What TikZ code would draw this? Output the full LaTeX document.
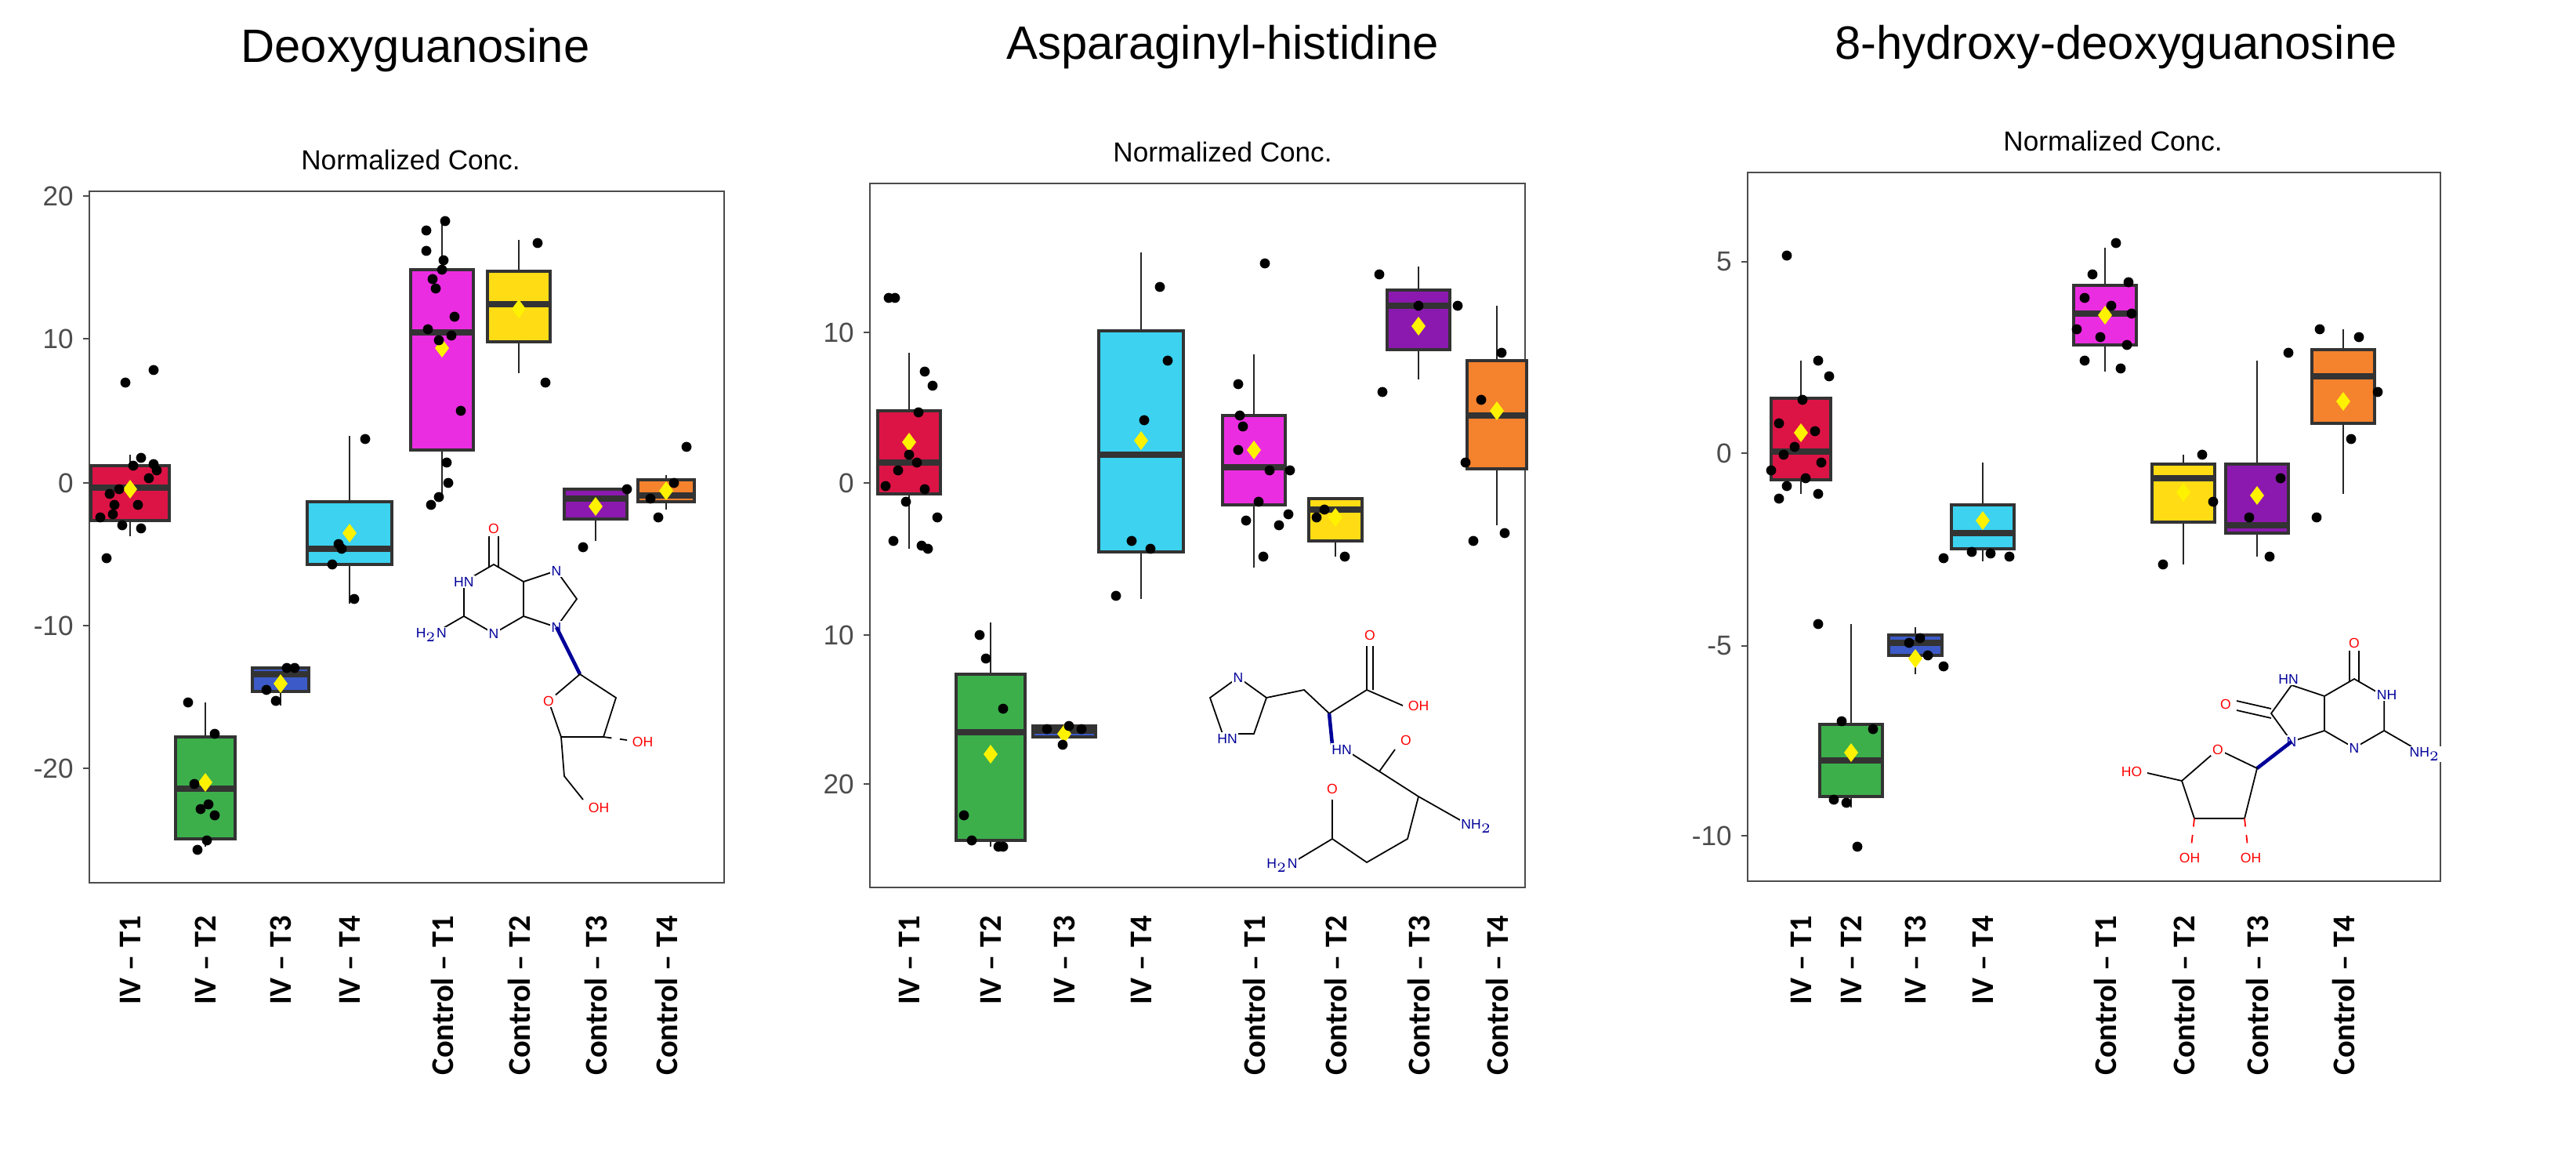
\documentclass[tikz,border=0pt]{standalone}
\usepackage{fontspec}
\setmainfont{Liberation Sans}
\newfontfamily\lab{Carlito}
\begin{document}
\begin{tikzpicture}[x=0.02cm,y=-0.02cm,
  frame/.style={draw=black!70,line width=0.7pt},
  boxs/.style={draw=black!80,line width=0.9pt},
  tick/.style={font=\fontsize{10}{12}\selectfont,text=black!70,anchor=east},
  xl/.style={font=\lab\bfseries\fontsize{11.5}{13}\selectfont,rotate=90,anchor=east},
  ttl/.style={font=\fontsize{17}{20}\selectfont},
  sub/.style={font=\fontsize{10}{12}\selectfont},
  bond/.style={line width=0.5pt},
  nl/.style={font=\fontsize{5}{6}\selectfont,text=blue!60!black,inner sep=0.5pt,fill=white},
  ol/.style={font=\fontsize{5}{6}\selectfont,text=red,inner sep=0.5pt,fill=white}]
\definecolor{cred}{RGB}{220,20,70}
\definecolor{cgreen}{RGB}{60,175,75}
\definecolor{cblue}{RGB}{60,90,200}
\definecolor{ccyan}{RGB}{60,210,240}
\definecolor{cmag}{RGB}{235,45,225}
\definecolor{cyel}{RGB}{255,220,20}
\definecolor{cpur}{RGB}{140,25,175}
\definecolor{cora}{RGB}{245,130,45}
\useasboundingbox (0,0) rectangle (1643.5,736);
\newcommand\bx[9]{%
  \draw[line width=0.8pt,black!85] (#1,#3) -- (#1,#4) (#1,#6) -- (#1,#7);
  \filldraw[boxs,fill=#9] (#1-#2,#4) rectangle (#1+#2,#6);
  \draw[line width=2.2pt,black!80] (#1-#2,#5) -- (#1+#2,#5);
  \fill[yellow] (#1,#8-6) -- (#1+4.5,#8) -- (#1,#8+6) -- (#1-4.5,#8) -- cycle;}
\newcommand\dts[1]{\foreach \px/\py in {#1} \fill (\px,\py) circle (3.2);}

%%%%% Panel 1
\node[ttl] (t1) at (265,32) {Deoxyguanosine};
\node[sub] (s1) at (262,102) {Normalized Conc.};
\draw[frame] (57,122) rectangle (462,563);
\foreach \v/\yy in {20/125,10/216,0/308,-10/399,-20/490}{
  \draw[black!70,line width=0.8pt] (53,\yy) -- (57,\yy);
  \node[tick] at (53,\yy) {\v};}
\bx{83}{25}{290}{297}{311}{332}{342}{312}{cred}
\bx{131}{19}{448}{470}{503}{535}{540}{499}{cgreen}
\bx{179}{18}{426}{426}{430}{441}{450}{436}{cblue}
\bx{223}{27}{278}{320}{350}{360}{385}{340}{ccyan}
\bx{282}{20}{140}{172}{212}{287}{318}{222}{cmag}
\bx{331}{20}{153}{173}{194}{218}{238}{197}{cyel}
\bx{380}{20}{312}{312}{318}{331}{345}{323}{cpur}
\bx{425}{18}{303}{306}{316}{320}{325}{313}{cora}
\dts{80/244,98/236,78/335,72/328,90/292,70/315,95/305,88/322,100/300,64/330,76/312,85/297,68/356,98/296,90/337,73/322}
\dts{120/448,137/468,124/500,133/513,128/516,132/536,126/542,137/520}
\dts{170/440,183/426,188/426,176/447}
\dts{233/280,218/350,212/360,216/347,226/382}
\dts{272/147,272/160,284/141,283/166,282/172,276/178,278/184,290/202,273/210,288/214,280/217,294/262,285/295,286/308,275/322,280/317}
\dts{343/155,348/244}
\dts{400/312,372/349}
\dts{430/308,415/318,438/285,420/330}
\foreach \c/\t in {83/IV – T1,131/IV – T2,179/IV – T3,223/IV – T4,282/Control – T1,331/Control – T2,380/Control – T3,425/Control – T4}
  \node[xl] at (\c,578) {\t};
\begin{scope}[shift={(315,382)}]
  \draw[bond] (270:22)--(330:22)--(30:22)--(90:22)--(150:22)--(210:22)--cycle;
  \draw[bond] (-3,-20)--(-3,-40) (3,-20)--(3,-40);
  \draw[bond] (19,-11)--(40,-18)--(53,0)--(40,18)--(19,11);
  \draw[bond] (150:22)--(150:40);
  \node[ol] (o1) at (0,-45) {O};
  \node[nl] (n1) at (210:22) {HN};
  \node[nl] (n3) at (90:22) {N};
  \node[nl] (n7) at (40,-18) {N};
  \node[nl] (n9) at (40,18) {N};
  \node[nl] (nh2) at (150:46) {H$_2$N};
\end{scope}
\draw[bond,line width=1.3pt,blue!60!black] (355,400) -- (370,430);
\draw[bond] (370,430)--(393,445)--(385,470)--(358,470)--(350,447)--cycle;
\draw[bond,dashed] (385,470)--(400,472);
\draw[bond] (358,470)--(360,495)--(372,510);
\node[ol] at (350,447) {O};
\node[ol] at (410,473) {OH};
\node[ol] at (382,515) {OH};

%%%%% Panel 2
\node[ttl] (t2) at (780,30) {Asparaginyl-histidine};
\node[sub] (s2) at (780,97) {Normalized Conc.};
\draw[frame] (555,117) rectangle (973,566);
\foreach \v/\yy in {10/212,0/308,10/405,20/500}{
  \draw[black!70,line width=0.8pt] (551,\yy) -- (555,\yy);
  \node[tick] at (551,\yy) {\v};}
\bx{580}{20}{225}{262}{295}{315}{350}{282}{cred}
\bx{632}{22}{397}{430}{467}{536}{540}{481}{cgreen}
\bx{679}{20}{463}{463}{466}{470}{473}{468}{cblue}
\bx{728}{27}{161}{211}{290}{352}{382}{281}{ccyan}
\bx{800}{20}{226}{265}{298}{322}{362}{287}{cmag}
\bx{852}{17}{318}{318}{325}{345}{355}{330}{cyel}
\bx{905}{20}{170}{185}{195}{223}{242}{208}{cpur}
\bx{955}{19}{195}{230}{265}{299}{335}{262}{cora}
\dts{567/190,571/190,590/237,595/246,586/263,580/290,585/295,573/300,565/310,590/312,578/320,598/330,570/345,588/348,592/350}
\dts{625/405,629/420,640/452,615/520,620/536,640/540,637/540}
\dts{668/465,690/465,678/475,682/463}
\dts{740/183,745/230,730/268,722/345,712/380,734/350}
\dts{807/168,790/245,823/300,790/287,791/265,793/272,810/300,803/320,822/328,795/332,806/355,816/335}
\dts{845/325,858/355,840/330}
\dts{880/175,905/195,882/250}
\dts{930/195,958/225,945/255,960/340,940/345,935/295}
\foreach \c/\t in {580/IV – T1,632/IV – T2,679/IV – T3,728/IV – T4,800/Control – T1,852/Control – T2,905/Control – T3,955/Control – T4}
  \node[xl] at (\c,578) {\t};
\draw[bond] (790,432)--(808,445)--(800,468)--(780,468)--(772,445)--cycle;
\draw[bond] (808,445)--(832,440)--(848,455);
\draw[bond] (848,455)--(872,440)--(872,412) (876,440)--(876,412);
\draw[bond] (872,440)--(895,450);
\draw[bond,line width=1.3pt,blue!60!black] (848,455)--(850,475);
\draw[bond] (858,478)--(880,492)--(890,478) (880,492)--(905,508)--(935,525);
\draw[bond] (905,508)--(898,535)--(872,550)--(850,535)--(850,510);
\draw[bond] (850,535)--(825,550);
\node[nl] at (790,432) {N};
\node[nl] at (783,471) {HN};
\node[ol] at (874,405) {O};
\node[ol] at (905,450) {OH};
\node[nl] at (856,478) {HN};
\node[ol] at (897,472) {O};
\node[ol] at (850,503) {O};
\node[nl] at (818,552) {H$_2$N};
\node[nl] at (942,527) {NH$_2$};

%%%%% Panel 3
\node[ttl] (t3) at (1350,30) {8-hydroxy-deoxyguanosine};
\node[sub] (s3) at (1348,90) {Normalized Conc.};
\draw[frame] (1115,110) rectangle (1557,562);
\foreach \v/\yy in {5/167,0/289,-5/412,-10/533}{
  \draw[black!70,line width=0.8pt] (1111,\yy) -- (1115,\yy);
  \node[tick] at (1111,\yy) {\v};}
\bx{1149}{19}{230}{254}{288}{306}{315}{276}{cred}
\bx{1181}{20}{398}{462}{485}{508}{515}{480}{cgreen}
\bx{1222}{17}{400}{405}{410}{418}{430}{420}{cblue}
\bx{1265}{20}{295}{322}{340}{350}{358}{332}{ccyan}
\bx{1343}{20}{158}{182}{200}{220}{237}{201}{cmag}
\bx{1393}{20}{290}{296}{305}{333}{360}{314}{cyel}
\bx{1440}{20}{230}{296}{335}{340}{355}{316}{cpur}
\bx{1495}{20}{210}{223}{240}{270}{315}{256}{cora}
\dts{1140/163,1160/230,1167/240,1150/255,1135/270,1158/275,1145/285,1138/290,1162/295,1130/300,1152/305,1140/310,1160/315,1135/318}
\dts{1160/398,1175/460,1195/465,1170/510,1178/512,1185/540}
\dts{1225/407,1218/410,1240/425,1230/418}
\dts{1258/352,1240/356,1270/353,1282/355}
\dts{1350/155,1335/175,1358/180,1330/190,1347/195,1360/200,1325/210,1340/215,1357/220,1330/230,1353/235}
\dts{1405/290,1380/360,1412/320}
\dts{1435/330,1455/305,1448/355,1460/225}
\dts{1480/210,1505/215,1517/250,1478/330,1500/280}
\foreach \c/\t in {1149/IV – T1,1181/IV – T2,1222/IV – T3,1265/IV – T4,1343/Control – T1,1393/Control – T2,1440/Control – T3,1495/Control – T4}
  \node[xl] at (\c,578) {\t};
\begin{scope}[shift={(1502,455)}]
  \draw[bond] (270:22)--(330:22)--(30:22)--(90:22)--(150:22)--(210:22)--cycle;
  \draw[bond] (-3,-20)--(-3,-40) (3,-20)--(3,-40);
  \draw[bond] (-19,-11)--(-40,-18)--(-53,0)--(-40,18)--(-19,11);
  \draw[bond] (-53,-3)--(-75,-8) (-53,3)--(-75,-2);
  \draw[bond] (30:22)--(30:42);
  \node[ol] at (0,-45) {O};
  \node[nl] at (330:24) {NH};
  \node[nl] at (90:22) {N};
  \node[nl] at (-42,-22) {HN};
  \node[nl] at (-40,18) {N};
  \node[ol] at (-82,-6) {O};
  \node[nl] at (30:52) {NH$_2$};
\end{scope}
\draw[bond,line width=1.3pt,blue!60!black] (1462,473) -- (1440,490);
\draw[bond] (1440,490)--(1415,478)--(1392,498)--(1400,522)--(1432,522)--cycle;
\draw[bond] (1392,498)--(1370,493);
\draw[bond,dashed,red] (1400,522)--(1398,540) (1432,522)--(1434,540);
\node[ol] at (1415,478) {O};
\node[ol] at (1360,492) {HO};
\node[ol] at (1397,547) {OH};
\node[ol] at (1436,547) {OH};
\end{tikzpicture}
\end{document}
